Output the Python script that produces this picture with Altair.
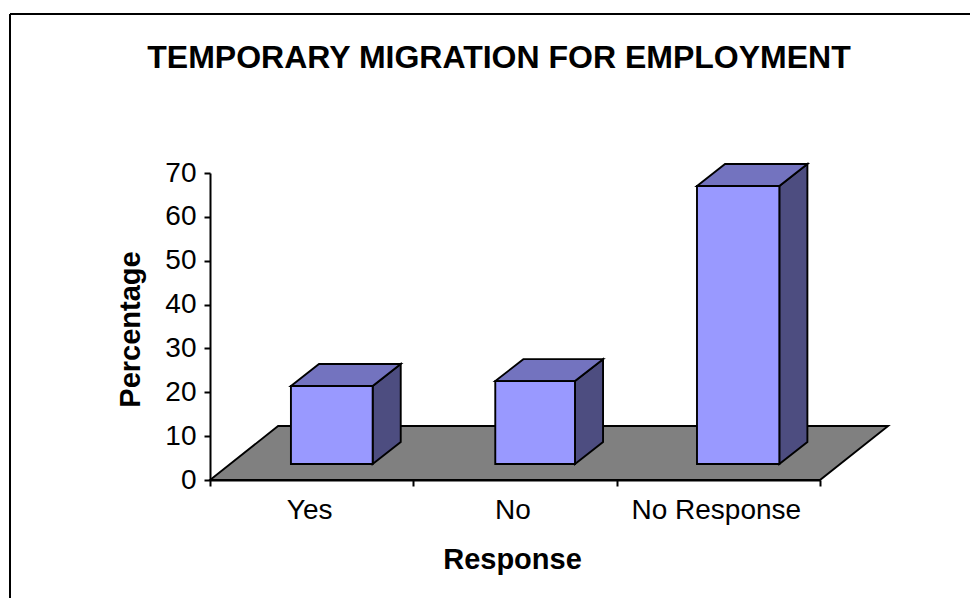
import altair as alt
import pandas as pd

categories = ["Yes", "No", "No Response"]
percentages = [17.8, 18.9, 63.4]
y_ticks = [0, 10, 20, 30, 40, 50, 60, 70]
chart_title = "TEMPORARY MIGRATION FOR EMPLOYMENT"

# Perspective of the 3-D look, in axis units
bar_lift = 3.65
bar_left = [0.398, 1.403, 2.395]
bar_right = [0.8, 1.795, 2.8]
label_slots = [0.49, 1.49, 2.49]
depth_x = 0.138
depth_y = 5.0
floor_depth_x = 0.335
floor_depth_y = 12.3
n_slots = 3

FONT = "Liberation Sans"
EDGE = 1.9


def parallelogram(name, left, right, level, dx, dy):
    """Flat face seen from above, as the band between two x-monotone edges."""
    return [
        {"id": name, "x": left, "lo": level, "hi": level},
        {"id": name, "x": left + dx, "lo": level, "hi": level + dy},
        {"id": name, "x": right, "lo": level, "hi": level + dy},
        {"id": name, "x": right + dx, "lo": level + dy, "hi": level + dy},
    ]


floor_rows = parallelogram("floor", 0, n_slots, 0, floor_depth_x, floor_depth_y)
top_rows, side_rows, front_rows = [], [], []
for name, value, left, right in zip(categories, percentages, bar_left, bar_right):
    top = bar_lift + value
    top_rows += parallelogram(name, left, right, top, depth_x, depth_y)
    side_rows += [
        {"id": name, "x": right, "lo": bar_lift, "hi": top},
        {"id": name, "x": right + depth_x, "lo": bar_lift + depth_y, "hi": top + depth_y},
    ]
    front_rows.append({"id": name, "x": left, "x2": right, "lo": bar_lift, "hi": top})

label_rows = pd.DataFrame({"slot": label_slots, "label": categories})

x_scale = alt.Scale(domain=[0, n_slots], nice=False, zero=False)
y_scale = alt.Scale(domain=[0, 70], nice=False)

x_axis = alt.Axis(
    values=list(range(n_slots + 1)), labels=False, grid=False, domainColor="black",
    domainWidth=2, tickColor="black", tickWidth=2, tickSize=6, zindex=1,
    title="Response", titleFont=FONT, titleFontSize=29, titleFontWeight="bold",
    titleColor="black", titleX=302, titleY=79, titleBaseline="middle",
)
y_axis = alt.Axis(
    values=y_ticks, grid=False, domainColor="black", domainWidth=2,
    tickColor="black", tickWidth=2, tickSize=6, zindex=1, labelFont=FONT,
    labelFontSize=28, labelColor="black", labelPadding=8,
    title="Percentage", titleFont=FONT, titleFontSize=29, titleFontWeight="bold",
    titleColor="black", titleX=-80, titleY=156, titleBaseline="middle",
)


def faces(rows, fill):
    return (
        alt.Chart(pd.DataFrame(rows))
        .mark_area(fill=fill, stroke="black", strokeWidth=EDGE, strokeJoin="miter", opacity=1)
        .encode(
            x=alt.X("x:Q", scale=x_scale, axis=x_axis),
            y=alt.Y("lo:Q", scale=y_scale, axis=y_axis, stack=None),
            y2="hi:Q",
            detail="id:N",
        )
    )


floor = faces(floor_rows, "#808080")
sides = faces(side_rows, "#4D4D80")
tops = faces(top_rows, "#7373BF")
fronts = (
    alt.Chart(pd.DataFrame(front_rows))
    .mark_rect(fill="#9999FF", stroke="black", strokeWidth=EDGE)
    .encode(
        x=alt.X("x:Q", scale=x_scale, axis=x_axis),
        x2="x2:Q",
        y=alt.Y("lo:Q", scale=y_scale, axis=y_axis),
        y2="hi:Q",
    )
)
labels = (
    alt.Chart(label_rows)
    .mark_text(font=FONT, fontSize=28, color="black", baseline="middle")
    .encode(
        x=alt.X("slot:Q", scale=x_scale, axis=x_axis),
        y=alt.value(338),
        text="label:N",
    )
)
heading = (
    alt.Chart(pd.DataFrame({"text": [chart_title]}))
    .mark_text(font=FONT, fontSize=32, fontWeight="bold", color="black", baseline="middle")
    .encode(x=alt.value(289), y=alt.value(-115), text="text:N")
)

# Frame along the top and left of the figure
frame_left = (
    alt.Chart(pd.DataFrame({"a": [0]}))
    .mark_rule(color="black", strokeWidth=2)
    .encode(x=alt.value(-200), y=alt.value(-159), y2=alt.value(425))
)
frame_top = (
    alt.Chart(pd.DataFrame({"a": [0]}))
    .mark_rule(color="black", strokeWidth=2)
    .encode(x=alt.value(-200), x2=alt.value(760), y=alt.value(-159))
)

chart = (
    alt.layer(floor, sides, tops, fronts, labels, heading, frame_left, frame_top)
    .properties(
        width=610,
        height=307,
        padding={"left": 210, "top": 173, "right": 150, "bottom": 118},
        autosize=alt.AutoSizeParams(type="none"),
        background="white",
    )
    .configure_view(stroke=None)
)

chart.save("out.html", embed_options={"renderer": "svg", "actions": False})
